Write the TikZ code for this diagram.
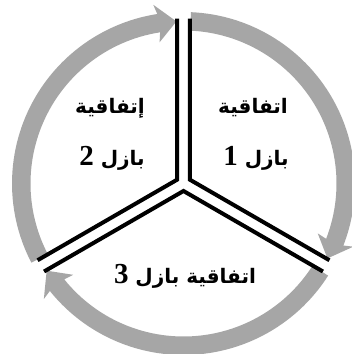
\documentclass[tikz,border=0pt]{standalone}
\usepackage{fontspec}
\usetikzlibrary{calc}
\TeXXeTstate=1
\newfontfamily\arabicfont[Script=Arabic]{DejaVu Sans}
\newfontfamily\digitfont{Liberation Serif}
\definecolor{ringgray}{HTML}{A6A6A6}
\newcommand{\dg}[1]{{\digitfont\bfseries\fontsize{29}{30}\selectfont #1}}
\begin{document}
\begin{tikzpicture}[x=1pt,y=1pt,
  ringseg/.style={fill=ringgray,draw=none},
  edgeline/.style={line width=4pt,draw=black,line join=miter,line cap=butt},
  label/.style={font=\arabicfont\bfseries\fontsize{20}{24}\selectfont,inner sep=0pt,anchor=center}]
\useasboundingbox (0,0) rectangle (352,354);
\clip (0,0) rectangle (352,354);
\fill[white] (0,0) rectangle (352,354);
\coordinate (C) at (183.5,170.5);
\def\ri{153}\def\ro{171.5}\def\rm{162.25}
% ring segments: start angle, tip angle
\foreach \a/\t in {87.5/-27.5, -32.5/-147.5, 207.5/92.5}{
  \pgfmathsetmacro{\b}{\t+6.3}
  \fill[ringseg] ($(C)+(\a:\ro)$) arc[start angle=\a, end angle=\b, radius=\ro]
    -- ($(C)+(\b+0.8:\rm+19)$) -- ($(C)+(\t:\rm)$) -- ($(C)+(\b+0.8:\rm-19)$)
    -- ($(C)+(\b:\ri)$) arc[start angle=\b, end angle=\a, radius=\ri] -- cycle;
}
% sector edges
\coordinate (P1) at ($(C)+(30:7.5)$);
\coordinate (P2) at ($(C)+(150:7.5)$);
\coordinate (P3) at ($(C)+(270:7.5)$);
\coordinate (P1a) at ($(P1)+(90:161)$);
\coordinate (P1b) at ($(P1)+(-30:161)$);
\coordinate (P2a) at ($(P2)+(90:161)$);
\coordinate (P2b) at ($(P2)+(210:161)$);
\coordinate (P3a) at ($(P3)+(210:161)$);
\coordinate (P3b) at ($(P3)+(-30:161)$);
\draw[edgeline] (P1a) -- (P1) -- (P1b);
\draw[edgeline] (P2a) -- (P2) -- (P2b);
\draw[edgeline] (P3a) -- (P3) -- (P3b);
% texts
\node[label] (t1a) at (253,246) {\beginR اتفاقية\endR};
\node[label] (t1b) at (256,196) {\beginR بازل \dg{1}\endR};
\node[label] (t2a) at (110,246) {\beginR إتفاقية\endR};
\node[label] (t2b) at (112,196) {\beginR بازل \dg{2}\endR};
\node[label] (t3) at (185,78) {\beginR اتفاقية بازل \dg{3}\endR};
\end{tikzpicture}
\end{document}
